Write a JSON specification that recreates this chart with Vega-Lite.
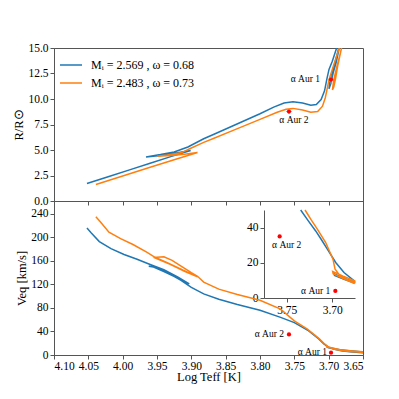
{
  "$schema": "https://vega.github.io/schema/vega-lite/v6.json",
  "padding": {"left": 12, "top": 41, "right": 5, "bottom": 5},
  "background": "white",
  "config": {
    "font": "Liberation Serif",
    "view": {"stroke": "#555", "strokeWidth": 1},
    "style": {"guide-label": {"font": "Liberation Serif"}, "guide-title": {"font": "Liberation Serif"}},
    "axis": {"labelFont": "Liberation Serif", "titleFont": "Liberation Serif", "labelFontSize": 11.5, "titleFontSize": 12.5, "titleFontWeight": "normal", "labelColor": "#000", "titleColor": "#000", "domainColor": "#555", "tickColor": "#555", "grid": false, "tickSize": 4, "labelPadding": 2, "titlePadding": 2},
    "legend": {"labelFont": "Liberation Serif"},
    "text": {"font": "Liberation Serif"}
  },
  "datasets": {
    "stars": [
      {"name": "α Aur 1", "logT": 3.6966, "R": 11.9, "Rlo": 11.45, "Rhi": 12.35, "Tlo": 3.6933, "Thi": 3.6999, "V": 4},
      {"name": "α Aur 2", "logT": 3.7578, "R": 8.77, "Rlo": 8.57, "Rhi": 8.97, "Tlo": 3.7538, "Thi": 3.7618, "V": 35}
    ],
    "topTracks": [
      {"s": "b", "i": 1, "logT": 4.052, "R": 1.72},
      {"s": "b", "i": 2, "logT": 4.02, "R": 2.4},
      {"s": "b", "i": 3, "logT": 3.99, "R": 3.05},
      {"s": "b", "i": 4, "logT": 3.96, "R": 3.7},
      {"s": "b", "i": 5, "logT": 3.93, "R": 4.35},
      {"s": "b", "i": 6, "logT": 3.901, "R": 4.95},
      {"s": "b", "i": 7, "logT": 3.92, "R": 4.72},
      {"s": "b", "i": 8, "logT": 3.945, "R": 4.45},
      {"s": "b", "i": 9, "logT": 3.966, "R": 4.32},
      {"s": "b", "i": 10, "logT": 3.945, "R": 4.55},
      {"s": "b", "i": 11, "logT": 3.925, "R": 4.8},
      {"s": "b", "i": 12, "logT": 3.905, "R": 5.3},
      {"s": "b", "i": 13, "logT": 3.882, "R": 6.1},
      {"s": "b", "i": 14, "logT": 3.867, "R": 6.55},
      {"s": "b", "i": 15, "logT": 3.84, "R": 7.35},
      {"s": "b", "i": 16, "logT": 3.8, "R": 8.55},
      {"s": "b", "i": 17, "logT": 3.78, "R": 9.2},
      {"s": "b", "i": 18, "logT": 3.765, "R": 9.6},
      {"s": "b", "i": 19, "logT": 3.752, "R": 9.72},
      {"s": "b", "i": 20, "logT": 3.738, "R": 9.6},
      {"s": "b", "i": 21, "logT": 3.726, "R": 9.38},
      {"s": "b", "i": 22, "logT": 3.718, "R": 9.45},
      {"s": "b", "i": 23, "logT": 3.711, "R": 9.95},
      {"s": "b", "i": 24, "logT": 3.706, "R": 10.8},
      {"s": "b", "i": 25, "logT": 3.7025, "R": 12.0},
      {"s": "b", "i": 26, "logT": 3.6995, "R": 12.9},
      {"s": "b", "i": 27, "logT": 3.6947, "R": 13.7},
      {"s": "b", "i": 28, "logT": 3.6889, "R": 14.9},
      {"s": "b", "i": 29, "logT": 3.684, "R": 16.2},
      {"s": "b", "i": 30, "logT": 3.68, "R": 17.5},
      {"s": "b", "i": 31, "logT": 3.679, "R": 17},
      {"s": "b", "i": 32, "logT": 3.685, "R": 14.9},
      {"s": "b", "i": 33, "logT": 3.689, "R": 13.6},
      {"s": "b", "i": 34, "logT": 3.6933, "R": 12.6},
      {"s": "b", "i": 35, "logT": 3.697, "R": 11.5},
      {"s": "b", "i": 36, "logT": 3.6995, "R": 11.0},
      {"s": "b", "i": 37, "logT": 3.6985, "R": 11.6},
      {"s": "b", "i": 38, "logT": 3.695, "R": 12.5},
      {"s": "b", "i": 39, "logT": 3.6895, "R": 13.9},
      {"s": "b", "i": 40, "logT": 3.683, "R": 15.6},
      {"s": "b", "i": 41, "logT": 3.678, "R": 17},
      {"s": "o", "i": 1, "logT": 4.039, "R": 1.62},
      {"s": "o", "i": 2, "logT": 4.0, "R": 2.45},
      {"s": "o", "i": 3, "logT": 3.96, "R": 3.3},
      {"s": "o", "i": 4, "logT": 3.925, "R": 4.05},
      {"s": "o", "i": 5, "logT": 3.891, "R": 4.75},
      {"s": "o", "i": 6, "logT": 3.91, "R": 4.58},
      {"s": "o", "i": 7, "logT": 3.93, "R": 4.45},
      {"s": "o", "i": 8, "logT": 3.95, "R": 4.38},
      {"s": "o", "i": 9, "logT": 3.935, "R": 4.5},
      {"s": "o", "i": 10, "logT": 3.915, "R": 4.72},
      {"s": "o", "i": 11, "logT": 3.9, "R": 5.2},
      {"s": "o", "i": 12, "logT": 3.882, "R": 5.75},
      {"s": "o", "i": 13, "logT": 3.867, "R": 6.15},
      {"s": "o", "i": 14, "logT": 3.84, "R": 6.9},
      {"s": "o", "i": 15, "logT": 3.8, "R": 8.0},
      {"s": "o", "i": 16, "logT": 3.775, "R": 8.7},
      {"s": "o", "i": 17, "logT": 3.762, "R": 9.0},
      {"s": "o", "i": 18, "logT": 3.752, "R": 9.08},
      {"s": "o", "i": 19, "logT": 3.738, "R": 8.92},
      {"s": "o", "i": 20, "logT": 3.726, "R": 8.7},
      {"s": "o", "i": 21, "logT": 3.716, "R": 8.78},
      {"s": "o", "i": 22, "logT": 3.709, "R": 9.3},
      {"s": "o", "i": 23, "logT": 3.705, "R": 10.1},
      {"s": "o", "i": 24, "logT": 3.7025, "R": 10.9},
      {"s": "o", "i": 25, "logT": 3.6995, "R": 11.9},
      {"s": "o", "i": 26, "logT": 3.6923, "R": 13.4},
      {"s": "o", "i": 27, "logT": 3.685, "R": 14.9},
      {"s": "o", "i": 28, "logT": 3.68, "R": 16},
      {"s": "o", "i": 29, "logT": 3.676, "R": 16.5},
      {"s": "o", "i": 30, "logT": 3.6816, "R": 14.9},
      {"s": "o", "i": 31, "logT": 3.687, "R": 13.2},
      {"s": "o", "i": 32, "logT": 3.69, "R": 12.0},
      {"s": "o", "i": 33, "logT": 3.6925, "R": 11.2},
      {"s": "o", "i": 34, "logT": 3.6945, "R": 10.9},
      {"s": "o", "i": 35, "logT": 3.6925, "R": 11.9},
      {"s": "o", "i": 36, "logT": 3.688, "R": 13.2},
      {"s": "o", "i": 37, "logT": 3.683, "R": 14.5},
      {"s": "o", "i": 38, "logT": 3.678, "R": 16},
      {"s": "o", "i": 39, "logT": 3.675, "R": 17}
    ],
    "botTracks": [
      {"s": "b", "i": 1, "logT": 4.052, "V": 216},
      {"s": "b", "i": 2, "logT": 4.046, "V": 208},
      {"s": "b", "i": 3, "logT": 4.034, "V": 193},
      {"s": "b", "i": 4, "logT": 4.017, "V": 181},
      {"s": "b", "i": 5, "logT": 3.998, "V": 171},
      {"s": "b", "i": 6, "logT": 3.979, "V": 163},
      {"s": "b", "i": 7, "logT": 3.96, "V": 154},
      {"s": "b", "i": 8, "logT": 3.94, "V": 145},
      {"s": "b", "i": 9, "logT": 3.92, "V": 133},
      {"s": "b", "i": 10, "logT": 3.903, "V": 121},
      {"s": "b", "i": 11, "logT": 3.92, "V": 131},
      {"s": "b", "i": 12, "logT": 3.94, "V": 142},
      {"s": "b", "i": 13, "logT": 3.955, "V": 149.5},
      {"s": "b", "i": 14, "logT": 3.962, "V": 151},
      {"s": "b", "i": 15, "logT": 3.95, "V": 149},
      {"s": "b", "i": 16, "logT": 3.935, "V": 140},
      {"s": "b", "i": 17, "logT": 3.915, "V": 127},
      {"s": "b", "i": 18, "logT": 3.9, "V": 115},
      {"s": "b", "i": 19, "logT": 3.882, "V": 104},
      {"s": "b", "i": 20, "logT": 3.86, "V": 95},
      {"s": "b", "i": 21, "logT": 3.833, "V": 86},
      {"s": "b", "i": 22, "logT": 3.8, "V": 76},
      {"s": "b", "i": 23, "logT": 3.77, "V": 64},
      {"s": "b", "i": 24, "logT": 3.75, "V": 55},
      {"s": "b", "i": 25, "logT": 3.729, "V": 41},
      {"s": "b", "i": 26, "logT": 3.714, "V": 27},
      {"s": "b", "i": 27, "logT": 3.707, "V": 19},
      {"s": "b", "i": 28, "logT": 3.7, "V": 13},
      {"s": "b", "i": 29, "logT": 3.693, "V": 10},
      {"s": "b", "i": 30, "logT": 3.68, "V": 7},
      {"s": "b", "i": 31, "logT": 3.665, "V": 5},
      {"s": "b", "i": 32, "logT": 3.65, "V": 4},
      {"s": "b", "i": 33, "logT": 3.63, "V": 3},
      {"s": "b", "i": 34, "logT": 3.684, "V": 8.8},
      {"s": "b", "i": 35, "logT": 3.703, "V": 13.6},
      {"s": "b", "i": 36, "logT": 3.7, "V": 12.4},
      {"s": "b", "i": 37, "logT": 3.69, "V": 10.2},
      {"s": "b", "i": 38, "logT": 3.683, "V": 8.7},
      {"s": "b", "i": 39, "logT": 3.665, "V": 5.6},
      {"s": "b", "i": 40, "logT": 3.65, "V": 4.2},
      {"s": "b", "i": 41, "logT": 3.63, "V": 3},
      {"s": "o", "i": 1, "logT": 4.039, "V": 235},
      {"s": "o", "i": 2, "logT": 4.032, "V": 226},
      {"s": "o", "i": 3, "logT": 4.02, "V": 209},
      {"s": "o", "i": 4, "logT": 4.003, "V": 198},
      {"s": "o", "i": 5, "logT": 3.985, "V": 188},
      {"s": "o", "i": 6, "logT": 3.965, "V": 175},
      {"s": "o", "i": 7, "logT": 3.954, "V": 167},
      {"s": "o", "i": 8, "logT": 3.935, "V": 157},
      {"s": "o", "i": 9, "logT": 3.915, "V": 146},
      {"s": "o", "i": 10, "logT": 3.891, "V": 133},
      {"s": "o", "i": 11, "logT": 3.91, "V": 142.5},
      {"s": "o", "i": 12, "logT": 3.93, "V": 154},
      {"s": "o", "i": 13, "logT": 3.955, "V": 166},
      {"s": "o", "i": 14, "logT": 3.95, "V": 166.5},
      {"s": "o", "i": 15, "logT": 3.94, "V": 167},
      {"s": "o", "i": 16, "logT": 3.928, "V": 161},
      {"s": "o", "i": 17, "logT": 3.915, "V": 151},
      {"s": "o", "i": 18, "logT": 3.9, "V": 140},
      {"s": "o", "i": 19, "logT": 3.891, "V": 134},
      {"s": "o", "i": 20, "logT": 3.882, "V": 124},
      {"s": "o", "i": 21, "logT": 3.86, "V": 112},
      {"s": "o", "i": 22, "logT": 3.833, "V": 103},
      {"s": "o", "i": 23, "logT": 3.8, "V": 93},
      {"s": "o", "i": 24, "logT": 3.77, "V": 78},
      {"s": "o", "i": 25, "logT": 3.75, "V": 58},
      {"s": "o", "i": 26, "logT": 3.731, "V": 44},
      {"s": "o", "i": 27, "logT": 3.714, "V": 28},
      {"s": "o", "i": 28, "logT": 3.707, "V": 20},
      {"s": "o", "i": 29, "logT": 3.7, "V": 13.5},
      {"s": "o", "i": 30, "logT": 3.693, "V": 10.3},
      {"s": "o", "i": 31, "logT": 3.68, "V": 7.3},
      {"s": "o", "i": 32, "logT": 3.665, "V": 5.5},
      {"s": "o", "i": 33, "logT": 3.65, "V": 4.5},
      {"s": "o", "i": 34, "logT": 3.63, "V": 3.5},
      {"s": "o", "i": 35, "logT": 3.685, "V": 8.5},
      {"s": "o", "i": 36, "logT": 3.704, "V": 14.8},
      {"s": "o", "i": 37, "logT": 3.701, "V": 13.2},
      {"s": "o", "i": 38, "logT": 3.69, "V": 10.5},
      {"s": "o", "i": 39, "logT": 3.683, "V": 8.8},
      {"s": "o", "i": 40, "logT": 3.665, "V": 6},
      {"s": "o", "i": 41, "logT": 3.65, "V": 4.3},
      {"s": "o", "i": 42, "logT": 3.63, "V": 3}
    ],
    "insetTracks": [
      {"s": "b", "i": 1, "logT": 3.7347, "V": 50},
      {"s": "b", "i": 2, "logT": 3.7265, "V": 44},
      {"s": "b", "i": 3, "logT": 3.7182, "V": 38.1},
      {"s": "b", "i": 4, "logT": 3.7115, "V": 32.8},
      {"s": "b", "i": 5, "logT": 3.7054, "V": 27.8},
      {"s": "b", "i": 6, "logT": 3.6962, "V": 20.2},
      {"s": "b", "i": 7, "logT": 3.6871, "V": 14.5},
      {"s": "b", "i": 8, "logT": 3.6755, "V": 9.6},
      {"s": "b", "i": 9, "logT": 3.6755, "V": 9.0},
      {"s": "b", "i": 10, "logT": 3.687, "V": 11.2},
      {"s": "b", "i": 11, "logT": 3.698, "V": 13.8},
      {"s": "b", "i": 12, "logT": 3.6975, "V": 12.8},
      {"s": "b", "i": 13, "logT": 3.687, "V": 10.6},
      {"s": "b", "i": 14, "logT": 3.6755, "V": 8.5},
      {"s": "o", "i": 1, "logT": 3.7299, "V": 50},
      {"s": "o", "i": 2, "logT": 3.7233, "V": 44.5},
      {"s": "o", "i": 3, "logT": 3.7164, "V": 39.1},
      {"s": "o", "i": 4, "logT": 3.7072, "V": 31.5},
      {"s": "o", "i": 5, "logT": 3.6992, "V": 22.1},
      {"s": "o", "i": 6, "logT": 3.697, "V": 16.5},
      {"s": "o", "i": 7, "logT": 3.692, "V": 13.0},
      {"s": "o", "i": 8, "logT": 3.684, "V": 10.5},
      {"s": "o", "i": 9, "logT": 3.6755, "V": 8.9},
      {"s": "o", "i": 10, "logT": 3.6755, "V": 9.8},
      {"s": "o", "i": 11, "logT": 3.688, "V": 12.4},
      {"s": "o", "i": 12, "logT": 3.6995, "V": 15.0},
      {"s": "o", "i": 13, "logT": 3.699, "V": 13.8},
      {"s": "o", "i": 14, "logT": 3.688, "V": 11.0},
      {"s": "o", "i": 15, "logT": 3.6755, "V": 8.2}
    ]
  },
  "vconcat": [
    {
      "width": 309,
      "height": 153,
      "encoding": {
        "x": {"field": "logT", "type": "quantitative", "scale": {"domain": [3.65, 4.1], "reverse": true, "nice": false, "zero": false}, "axis": {"values": [4.1, 4.05, 4.0, 3.95, 3.9, 3.85, 3.8, 3.75, 3.7, 3.65], "labels": false, "title": null}},
        "y": {"field": "R", "type": "quantitative", "scale": {"domain": [0, 15], "nice": false, "zero": false}, "axis": {"values": [0, 2.5, 5, 7.5, 10, 12.5, 15], "format": ".1f", "title": "R/R⊙", "labelFont": "Liberation Serif", "titleFont": "Liberation Serif"}}
      },
      "layer": [
        {
          "data": {"name": "topTracks"},
          "mark": {"type": "line", "strokeWidth": 1.5, "clip": true},
          "encoding": {
            "color": {"field": "s", "type": "nominal", "scale": {"domain": ["b", "o"], "range": ["#1f77b4", "#ff7f0e"]},
              "legend": {"orient": "top-left", "title": null, "symbolType": "stroke", "symbolSize": 484, "symbolStrokeWidth": 1.5, "labelFont": "Liberation Serif", "labelFontSize": 12, "labelColor": "#000", "offset": 5, "padding": 0, "rowPadding": -6.5, "labelOffset": 8,
                "labelExpr": "datum.label == 'b' ? 'Mᵢ = 2.569 , ω = 0.68' : 'Mᵢ = 2.483 , ω = 0.73'"}},
            "order": {"field": "i", "type": "quantitative"}
          }
        },
        {
          "data": {"name": "stars"},
          "mark": {"type": "rule", "color": "#999", "strokeWidth": 1},
          "encoding": {"x": {"field": "Tlo", "type": "quantitative", "title": null}, "x2": {"field": "Thi"}}
        },
        {
          "data": {"name": "stars"},
          "mark": {"type": "rule", "color": "#999", "strokeWidth": 1},
          "encoding": {"y": {"field": "Rlo", "type": "quantitative", "title": "R/R⊙"}, "y2": {"field": "Rhi"}}
        },
        {
          "data": {"name": "stars"},
          "mark": {"type": "circle", "color": "#ff0000", "size": 18, "opacity": 1}
        },
        {
          "data": {"name": "stars"},
          "transform": [{"filter": "datum.name == 'α Aur 1'"}],
          "mark": {"type": "text", "align": "right", "baseline": "middle", "dx": -11, "dy": -1, "fontSize": 9.5, "font": "Liberation Serif"},
          "encoding": {"text": {"field": "name"}}
        },
        {
          "data": {"name": "stars"},
          "transform": [{"filter": "datum.name == 'α Aur 2'"}],
          "mark": {"type": "text", "align": "center", "baseline": "middle", "dx": 5, "dy": 8, "fontSize": 9.5, "font": "Liberation Serif"},
          "encoding": {"text": {"field": "name"}}
        }
      ]
    },
    {
      "width": 309,
      "height": 154,
      "layer": [
        {
          "encoding": {
            "x": {"field": "logT", "type": "quantitative", "scale": {"domain": [3.65, 4.1], "reverse": true, "nice": false, "zero": false}, "axis": {"values": [4.1, 4.05, 4.0, 3.95, 3.9, 3.85, 3.8, 3.75, 3.7, 3.65], "format": ".2f", "title": "Log Teff [K]", "orient": "bottom", "labelPadding": 1, "titlePadding": -1, "labelFont": "Liberation Serif", "titleFont": "Liberation Serif"}},
            "y": {"field": "V", "type": "quantitative", "scale": {"domain": [0, 262], "nice": false, "zero": false}, "axis": {"values": [0, 40, 80, 120, 160, 200, 240], "title": "Veq [km/s]", "orient": "left", "labelFont": "Liberation Serif", "titleFont": "Liberation Serif"}}
          },
          "layer": [
            {
              "data": {"name": "botTracks"},
              "mark": {"type": "line", "strokeWidth": 1.5, "clip": true},
              "encoding": {
                "color": {"field": "s", "type": "nominal", "scale": {"domain": ["b", "o"], "range": ["#1f77b4", "#ff7f0e"]}, "legend": null},
                "order": {"field": "i", "type": "quantitative"}
              }
            },
            {
              "data": {"name": "stars"},
              "mark": {"type": "circle", "color": "#ff0000", "size": 18, "opacity": 1}
            },
            {
              "data": {"name": "stars"},
              "transform": [{"filter": "datum.name == 'α Aur 1'"}],
              "mark": {"type": "text", "align": "right", "baseline": "middle", "dx": -4, "dy": -1, "fontSize": 9.5, "font": "Liberation Serif"},
              "encoding": {"text": {"field": "name"}}
            },
            {
              "data": {"name": "stars"},
              "transform": [{"filter": "datum.name == 'α Aur 2'"}],
              "mark": {"type": "text", "align": "right", "baseline": "middle", "dx": -5, "dy": 0, "fontSize": 9.5, "font": "Liberation Serif"},
              "encoding": {"text": {"field": "name"}}
            }
          ]
        },
        {
          "encoding": {
            "x": {"field": "logT", "type": "quantitative", "scale": {"domain": [3.675, 3.775], "range": [301, 210], "nice": false, "zero": false}, "axis": {"values": [3.75, 3.7], "format": ".2f", "title": null, "orient": "bottom", "offset": -57, "labelFont": "Liberation Serif"}},
            "y": {"field": "V", "type": "quantitative", "scale": {"domain": [0, 50], "range": [97, 9], "nice": false, "zero": false}, "axis": {"values": [0, 20, 40], "title": null, "orient": "left", "offset": -210, "labelFont": "Liberation Serif"}}
          },
          "layer": [
            {
              "data": {"values": [{}]},
              "mark": {"type": "rect", "fill": "white", "stroke": "#555", "strokeWidth": 1},
              "encoding": {
                "x": {"datum": 3.775, "type": "quantitative"},
                "x2": {"datum": 3.675},
                "y": {"datum": 0, "type": "quantitative"},
                "y2": {"datum": 50}
              }
            },
            {
              "data": {"name": "insetTracks"},
              "mark": {"type": "line", "strokeWidth": 1.5},
              "encoding": {
                "color": {"field": "s", "type": "nominal", "scale": {"domain": ["b", "o"], "range": ["#1f77b4", "#ff7f0e"]}, "legend": null},
                "order": {"field": "i", "type": "quantitative"}
              }
            },
            {
              "data": {"name": "stars"},
              "mark": {"type": "circle", "color": "#ff0000", "size": 18, "opacity": 1}
            },
            {
              "data": {"name": "stars"},
              "transform": [{"filter": "datum.name == 'α Aur 1'"}],
              "mark": {"type": "text", "align": "right", "baseline": "middle", "dx": -5, "dy": 0, "fontSize": 9.5, "font": "Liberation Serif"},
              "encoding": {"text": {"field": "name"}}
            },
            {
              "data": {"name": "stars"},
              "transform": [{"filter": "datum.name == 'α Aur 2'"}],
              "mark": {"type": "text", "align": "center", "baseline": "middle", "dx": 7, "dy": 9, "fontSize": 9.5, "font": "Liberation Serif"},
              "encoding": {"text": {"field": "name"}}
            }
          ]
        }
      ],
      "resolve": {"scale": {"x": "independent", "y": "independent"}, "axis": {"x": "independent", "y": "independent"}}
    }
  ],
  "spacing": 0,
  "bounds": "flush",
  "resolve": {"scale": {"x": "independent", "y": "independent", "color": "independent"}, "legend": {"color": "independent"}}
}
